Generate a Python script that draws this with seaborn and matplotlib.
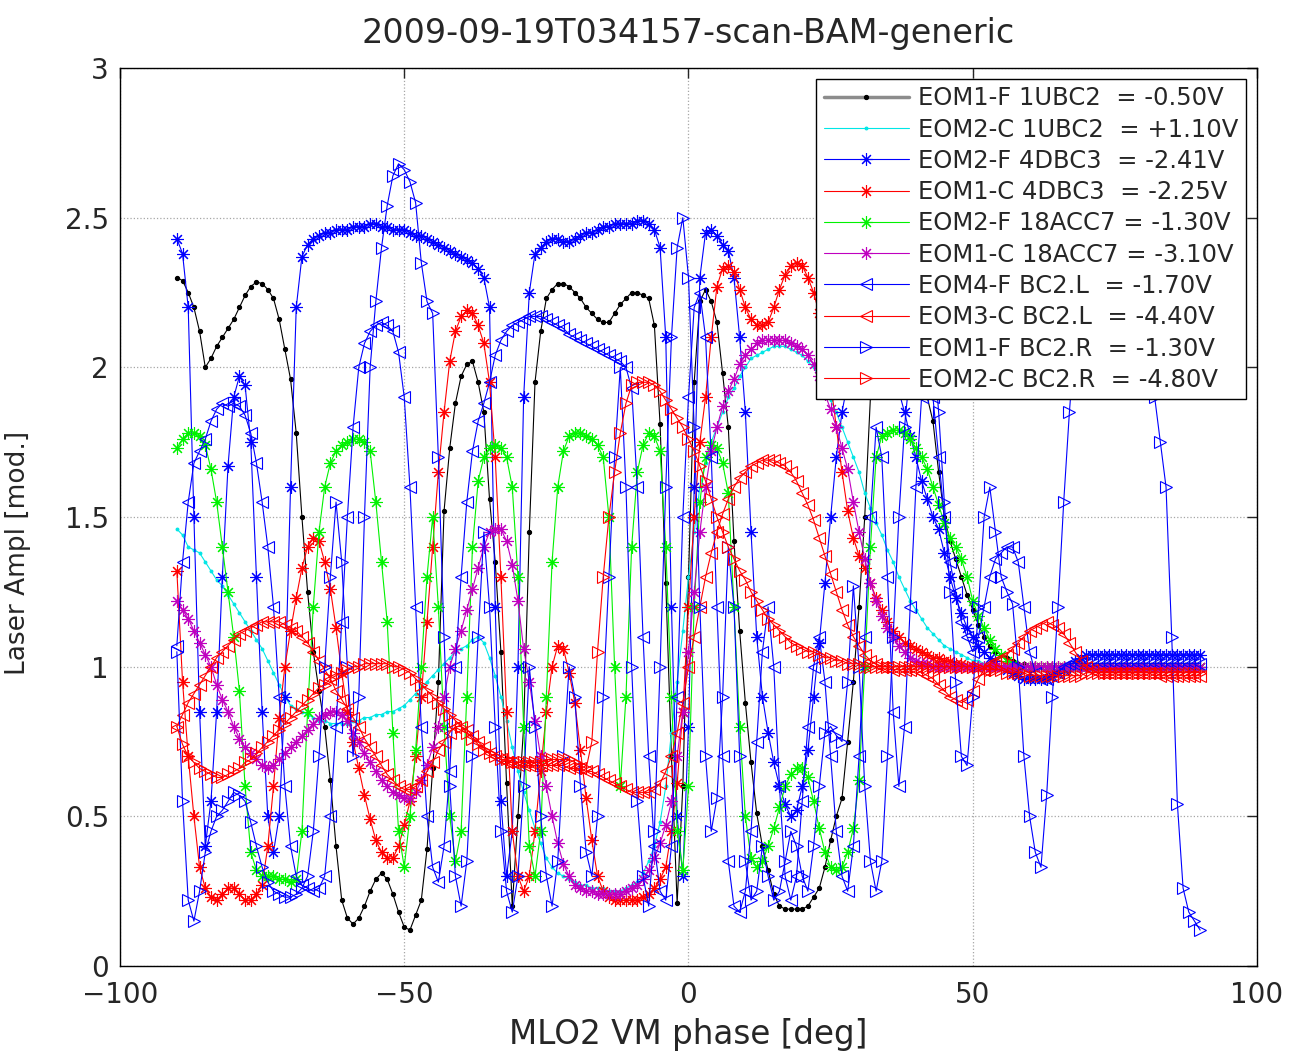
import numpy as np
import pandas as pd
import matplotlib
matplotlib.use("Agg")
import matplotlib.pyplot as plt
import seaborn as sns

# scan grid (deg), one sample per degree
phase = np.arange(-90, 91, 1)

# ---- series values (x = -90 ... 90) ----
eom1f_1ubc2 = [
    2.30, 2.29, 2.25, 2.20, 2.12, 2.00, 2.03, 2.07, 2.10, 2.13,
    2.16, 2.20, 2.24, 2.27, 2.285, 2.28, 2.26, 2.23, 2.16, 2.06,
    1.96, 1.78, 1.50, 1.25, 1.05, 0.92, 0.80, 0.62, 0.40, 0.22,
    0.16, 0.14, 0.16, 0.20, 0.25, 0.29, 0.31, 0.29, 0.24, 0.18,
    0.13, 0.12, 0.17, 0.22, 0.39, 0.66, 0.95, 1.52, 1.73, 1.88,
    1.97, 2.01, 2.02, 1.95, 1.85, 1.56, 1.35, 1.05, 0.61, 0.20,
    0.50, 0.80, 1.45, 1.95, 2.12, 2.23, 2.26, 2.28, 2.28, 2.27,
    2.25, 2.23, 2.20, 2.18, 2.16, 2.15, 2.15, 2.18, 2.21, 2.23,
    2.25, 2.25, 2.24, 2.23, 2.14, 1.81, 1.28, 0.70, 0.21, 0.60,
    1.30, 1.95, 2.22, 2.26, 2.22, 2.15, 1.98, 1.80, 1.42, 1.12,
    0.88, 0.68, 0.51, 0.40, 0.32, 0.24, 0.20, 0.19, 0.19, 0.19,
    0.19, 0.20, 0.23, 0.26, 0.33, 0.42, 0.50, 0.56, 0.75, 0.95,
    1.20, 1.50, 1.90, 2.05, 2.15, 2.20, 2.22, 2.20, 2.15, 2.08,
    2.00, 1.95, 1.90, 1.82, 1.65, 1.50, 1.42, 1.36, 1.30, 1.24,
    1.19, 1.14, 1.10, 1.07, 1.05, 1.04, 1.03, 1.02, 1.01, 1.01,
    1.00, 1.00, 1.00, 1.00, 1.00, 1.00, 1.00, 1.00, 1.00, 1.00,
    1.00, 1.00, 1.00, 1.00, 1.00, 1.00, 1.00, 1.00, 1.00, 1.00,
    1.00, 1.00, 1.00, 1.00, 1.00, 1.00, 1.00, 1.00, 1.00, 1.00,
    1.00]

eom2c_1ubc2 = [
    1.46, 1.44, 1.40, 1.39, 1.38, 1.35, 1.32, 1.29, 1.27, 1.24,
    1.21, 1.18, 1.15, 1.12, 1.09, 1.06, 1.02, 0.98, 0.94, 0.90,
    0.87, 0.86, 0.85, 0.84, 0.83, 0.82, 0.82, 0.81, 0.81, 0.81,
    0.81, 0.82, 0.82, 0.83, 0.83, 0.84, 0.84, 0.85, 0.85, 0.86,
    0.87, 0.89, 0.91, 0.93, 0.95, 0.97, 0.99, 1.01, 1.03, 1.05,
    1.06, 1.07, 1.09, 1.10, 1.08, 1.03, 0.97, 0.90, 0.82, 0.73,
    0.65, 0.58, 0.52, 0.46, 0.41, 0.36, 0.33, 0.31, 0.30, 0.29,
    0.28, 0.27, 0.27, 0.26, 0.26, 0.26, 0.25, 0.25, 0.25, 0.26,
    0.27, 0.28, 0.31, 0.35, 0.40, 0.48, 0.60, 0.78, 0.95, 1.12,
    1.30, 1.45, 1.60, 1.68, 1.75, 1.80, 1.85, 1.90, 1.93, 1.97,
    2.00, 2.03, 2.04, 2.05, 2.06, 2.07, 2.07, 2.07, 2.06, 2.05,
    2.04, 2.02, 2.00, 1.97, 1.93, 1.89, 1.85, 1.80, 1.75, 1.70,
    1.65, 1.58, 1.53, 1.48, 1.44, 1.39, 1.35, 1.30, 1.26, 1.22,
    1.19, 1.16, 1.13, 1.11, 1.09, 1.07, 1.06, 1.05, 1.04, 1.03,
    1.02, 1.02, 1.01, 1.01, 1.01, 1.00, 1.00, 1.00, 1.00, 1.00,
    1.00, 1.00, 1.00, 1.00, 1.00, 1.00, 1.00, 1.00, 1.00, 1.00,
    1.00, 1.00, 1.00, 1.00, 1.00, 1.00, 1.00, 1.00, 1.00, 1.00,
    1.00, 1.00, 1.00, 1.00, 1.00, 1.00, 1.00, 1.00, 1.00, 1.00,
    1.00]

eom2f_4dbc3 = [
    2.43, 2.38, 2.20, 1.50, 0.85, 0.40, 0.55, 0.85, 1.30, 1.67,
    1.90, 1.97, 1.94, 1.75, 1.30, 0.85, 0.50, 0.38, 0.50, 0.90,
    1.60, 2.20, 2.37, 2.41, 2.43, 2.44, 2.45, 2.45, 2.46, 2.46,
    2.46, 2.47, 2.47, 2.47, 2.48, 2.48, 2.47, 2.47, 2.46, 2.46,
    2.46, 2.45, 2.44, 2.44, 2.43, 2.42, 2.41, 2.40, 2.39, 2.38,
    2.37, 2.36, 2.35, 2.33, 2.30, 2.20, 1.20, 0.55, 0.30, 0.45,
    1.00, 1.90, 2.25, 2.38, 2.40, 2.42, 2.43, 2.43, 2.42, 2.42,
    2.43, 2.44, 2.45, 2.45, 2.46, 2.47, 2.47, 2.48, 2.48, 2.48,
    2.48, 2.49, 2.49, 2.48, 2.46, 2.40, 2.10, 1.20, 0.50, 0.30,
    0.80, 1.60, 2.30, 2.45, 2.46, 2.44, 2.41, 2.39, 2.30, 2.10,
    1.85, 1.45, 1.10, 0.90, 0.78, 0.68, 0.60, 0.54, 0.50, 0.52,
    0.60, 0.72, 0.90, 1.08, 1.28, 1.50, 1.70, 1.85, 1.95, 2.02,
    2.06, 2.08, 2.08, 2.07, 2.05, 2.02, 1.98, 1.92, 1.85, 1.77,
    1.70, 1.62, 1.56, 1.50, 1.46, 1.38, 1.30, 1.23, 1.18, 1.13,
    1.10, 1.07, 1.05, 1.03, 1.02, 1.00, 0.99, 0.98, 0.97, 0.96,
    0.96, 0.96, 0.96, 0.96, 0.97, 0.98, 0.99, 1.00, 1.02, 1.03,
    1.04, 1.04, 1.04, 1.04, 1.04, 1.04, 1.04, 1.04, 1.04, 1.04,
    1.04, 1.04, 1.04, 1.04, 1.04, 1.04, 1.04, 1.04, 1.04, 1.04,
    1.04]

eom1c_4dbc3 = [
    1.32, 0.95, 0.70, 0.50, 0.33, 0.26, 0.23, 0.22, 0.24, 0.26,
    0.26, 0.24, 0.22, 0.22, 0.24, 0.27, 0.40, 0.60, 0.83, 1.00,
    1.12, 1.23, 1.33, 1.40, 1.43, 1.42, 1.35, 1.26, 1.13, 0.98,
    0.85, 0.75, 0.66, 0.57, 0.49, 0.42, 0.38, 0.36, 0.36, 0.40,
    0.47, 0.55, 0.70, 0.90, 1.15, 1.40, 1.65, 1.85, 2.02, 2.12,
    2.17, 2.19, 2.18, 2.14, 2.08, 1.95, 1.70, 1.30, 0.85, 0.45,
    0.30, 0.25, 0.30, 0.45, 0.65, 0.85, 1.00, 1.07, 1.06, 0.98,
    0.88, 0.72, 0.56, 0.42, 0.30, 0.25, 0.23, 0.22, 0.22, 0.22,
    0.22, 0.22, 0.23, 0.24, 0.26, 0.29, 0.33, 0.45, 0.61, 0.85,
    1.20, 1.50, 1.75, 1.90, 2.10, 2.27, 2.33, 2.34, 2.32, 2.26,
    2.20, 2.16, 2.14, 2.14, 2.15, 2.20, 2.26, 2.31, 2.34, 2.35,
    2.34, 2.30, 2.25, 2.18, 2.08, 1.95, 1.80, 1.65, 1.52, 1.43,
    1.37, 1.33, 1.28, 1.23, 1.19, 1.15, 1.12, 1.10, 1.08, 1.07,
    1.06, 1.05, 1.04, 1.03, 1.03, 1.02, 1.02, 1.01, 1.01, 1.00,
    1.00, 1.00, 1.00, 1.00, 1.00, 1.00, 1.00, 1.00, 1.00, 1.00,
    1.00, 1.00, 1.00, 1.00, 1.00, 1.00, 1.00, 1.00, 1.00, 1.00,
    1.00, 1.00, 1.00, 1.00, 1.00, 1.00, 1.00, 1.00, 1.00, 1.00,
    1.00, 1.00, 1.00, 1.00, 1.00, 1.00, 1.00, 1.00, 1.00, 1.00,
    1.00]

eom2f_18acc7 = [
    1.73, 1.76, 1.78, 1.78, 1.77, 1.74, 1.66, 1.55, 1.40, 1.25,
    1.10, 0.92, 0.60, 0.38, 0.32, 0.30, 0.30, 0.30, 0.29, 0.29,
    0.28, 0.29, 0.45, 0.85, 1.20, 1.45, 1.60, 1.68, 1.72, 1.74,
    1.75, 1.76, 1.76, 1.75, 1.72, 1.55, 1.35, 1.15, 0.78, 0.45,
    0.33, 0.50, 0.72, 1.00, 1.30, 1.50, 1.20, 0.80, 0.50, 0.35,
    0.45, 0.90, 1.40, 1.62, 1.70, 1.73, 1.74, 1.73, 1.70, 1.60,
    1.30, 0.80, 0.40, 0.30, 0.45, 0.90, 1.35, 1.60, 1.72, 1.77,
    1.78, 1.78, 1.77, 1.76, 1.74, 1.70, 1.50, 1.00, 0.60, 0.90,
    1.40, 1.65, 1.74, 1.78, 1.77, 1.72, 1.40, 0.90, 0.45, 0.32,
    0.60, 1.20, 1.55, 1.70, 1.74, 1.73, 1.68, 1.58, 1.20, 0.80,
    0.50, 0.36, 0.33, 0.35, 0.40, 0.46, 0.53, 0.60, 0.64, 0.66,
    0.66, 0.63, 0.55, 0.46, 0.38, 0.33, 0.32, 0.33, 0.38, 0.46,
    0.62, 1.00, 1.40, 1.70, 1.77, 1.78, 1.79, 1.79, 1.78, 1.76,
    1.73, 1.70, 1.66, 1.60, 1.54, 1.48, 1.43, 1.40, 1.36, 1.30,
    1.22, 1.17, 1.13, 1.09, 1.06, 1.04, 1.02, 1.01, 1.00, 1.00,
    1.00, 1.00, 1.00, 1.00, 1.00, 1.00, 1.00, 1.00, 1.00, 1.00,
    1.00, 1.00, 1.00, 1.00, 1.00, 1.00, 1.00, 1.00, 1.00, 1.00,
    1.00, 1.00, 1.00, 1.00, 1.00, 1.00, 1.00, 1.00, 1.00, 1.00,
    1.00]

eom1c_18acc7 = [
    1.22, 1.19, 1.16, 1.12, 1.08, 1.04, 1.00, 0.94, 0.89, 0.85,
    0.80, 0.76, 0.73, 0.71, 0.69, 0.67, 0.66, 0.67, 0.69, 0.71,
    0.73, 0.75, 0.77, 0.79, 0.81, 0.83, 0.84, 0.85, 0.85, 0.84,
    0.82, 0.78, 0.75, 0.71, 0.68, 0.65, 0.62, 0.60, 0.58, 0.57,
    0.56, 0.56, 0.58, 0.62, 0.67, 0.73, 0.80, 0.90, 1.00, 1.06,
    1.12, 1.19, 1.26, 1.33, 1.40, 1.45, 1.46, 1.46, 1.42, 1.34,
    1.22, 1.06, 0.95, 0.82, 0.70, 0.60, 0.50, 0.41, 0.34, 0.30,
    0.27, 0.26, 0.25, 0.25, 0.24, 0.24, 0.24, 0.24, 0.24, 0.25,
    0.26, 0.27, 0.29, 0.32, 0.36, 0.41, 0.47, 0.55, 0.70, 0.85,
    1.05, 1.25, 1.45, 1.60, 1.72, 1.80, 1.87, 1.92, 1.96, 2.01,
    2.04, 2.06, 2.08, 2.09, 2.09, 2.09, 2.09, 2.09, 2.08, 2.07,
    2.06, 2.04, 2.01, 1.97, 1.91, 1.86, 1.80, 1.73, 1.66, 1.55,
    1.45, 1.36, 1.28, 1.22, 1.17, 1.13, 1.10, 1.07, 1.05, 1.03,
    1.02, 1.01, 1.01, 1.00, 1.00, 1.00, 1.00, 1.00, 1.00, 1.00,
    1.00, 1.00, 1.00, 1.00, 1.00, 1.00, 1.00, 1.00, 1.00, 1.00,
    1.00, 1.00, 1.00, 1.00, 1.00, 1.00, 1.00, 1.00, 1.00, 1.00,
    1.00, 1.00, 1.00, 1.00, 1.00, 1.00, 1.00, 1.00, 1.00, 1.00,
    1.00, 1.00, 1.00, 1.00, 1.00, 1.00, 1.00, 1.00, 1.00, 1.00,
    1.00]

eom4f_bc2l = [
    1.07, 1.35, 1.55, 1.68, 1.72, 1.76, 1.82, 1.86, 1.88, 1.87,
    1.88, 1.87, 1.84, 1.78, 1.68, 1.55, 1.40, 1.20, 0.90, 0.60,
    0.40, 0.30, 0.27, 0.26, 0.25, 0.26, 0.30, 0.50, 0.80, 1.15,
    1.50, 1.80, 2.00, 2.08, 2.12, 2.14, 2.15, 2.14, 2.12, 2.05,
    1.90, 1.60, 1.20, 0.80, 0.50, 0.33, 0.28, 0.40, 0.65, 1.00,
    1.30, 1.55, 1.72, 1.82, 1.88, 1.95, 2.04, 2.09, 2.12, 2.14,
    2.15, 2.16, 2.17, 2.17, 2.17, 2.16, 2.15, 2.14, 2.13, 2.11,
    2.10, 2.09, 2.08, 2.07, 2.06, 2.05, 2.04, 2.03, 2.02, 2.00,
    1.93, 1.60, 1.10, 0.70, 0.40, 0.25, 0.22, 0.40, 0.90, 1.50,
    1.90, 2.20, 2.25, 2.10, 1.70, 1.20, 0.70, 0.35, 0.20, 0.18,
    0.25, 0.45, 0.75, 1.05, 1.20, 1.00, 0.60, 0.30, 0.22, 0.30,
    0.55, 0.80, 1.00, 1.10, 0.95, 0.70, 0.45, 0.30, 0.25, 0.40,
    0.70, 1.10, 1.50, 1.80, 1.70, 1.30, 0.85, 0.60, 0.80, 1.20,
    1.60, 1.90, 2.00, 1.90, 1.70, 1.50, 1.35, 1.25, 1.15, 1.10,
    1.05, 1.10, 1.20, 1.30, 1.36, 1.38, 1.40, 1.40, 1.35, 1.20,
    1.05, 0.98, 0.96, 0.96, 0.97, 0.98, 1.00, 1.01, 1.01, 1.01,
    1.01, 1.01, 1.01, 1.01, 1.01, 1.01, 1.01, 1.01, 1.01, 1.01,
    1.01, 1.01, 1.01, 1.01, 1.01, 1.01, 1.01, 1.01, 1.01, 1.01,
    1.01]

eom3c_bc2l = [
    0.80, 0.84, 0.88, 0.91, 0.94, 0.97, 1.00, 1.03, 1.05, 1.07,
    1.09, 1.11, 1.12, 1.13, 1.14, 1.15, 1.15, 1.15, 1.15, 1.14,
    1.13, 1.12, 1.10, 1.08, 1.05, 1.02, 0.99, 0.96, 0.92, 0.89,
    0.86, 0.83, 0.80, 0.76, 0.73, 0.70, 0.67, 0.64, 0.62, 0.60,
    0.59, 0.59, 0.60, 0.62, 0.65, 0.68, 0.72, 0.75, 0.78, 0.80,
    0.80, 0.79, 0.77, 0.75, 0.73, 0.71, 0.70, 0.69, 0.68, 0.68,
    0.67, 0.67, 0.67, 0.67, 0.67, 0.67, 0.67, 0.67, 0.67, 0.66,
    0.66, 0.66, 0.65, 0.65, 0.64, 0.63, 0.62, 0.61, 0.60, 0.59,
    0.58, 0.58, 0.58, 0.58, 0.59, 0.61, 0.65, 0.70, 0.78, 0.88,
    1.00, 1.10, 1.20, 1.30, 1.38, 1.45, 1.51, 1.56, 1.60, 1.63,
    1.65, 1.67, 1.68, 1.69, 1.69, 1.69, 1.68, 1.67, 1.65, 1.62,
    1.58, 1.54, 1.49, 1.43, 1.37, 1.31, 1.25, 1.19, 1.14, 1.10,
    1.07, 1.04, 1.02, 1.01, 1.00, 1.00, 0.99, 0.99, 0.99, 0.99,
    0.99, 0.98, 0.97, 0.96, 0.94, 0.92, 0.90, 0.89, 0.88, 0.89,
    0.92, 0.96, 0.99, 1.01, 1.02, 1.03, 1.04, 1.06, 1.08, 1.10,
    1.12, 1.13, 1.14, 1.15, 1.14, 1.13, 1.11, 1.08, 1.05, 1.02,
    1.00, 0.99, 0.98, 0.98, 0.98, 0.98, 0.98, 0.98, 0.98, 0.98,
    0.98, 0.98, 0.98, 0.97, 0.97, 0.97, 0.97, 0.97, 0.97, 0.97,
    0.97]

eom1f_bc2r = [
    1.05, 0.55, 0.22, 0.15, 0.25, 0.38, 0.45, 0.50, 0.52, 0.55,
    0.58, 0.57, 0.55, 0.48, 0.40, 0.33, 0.28, 0.25, 0.24, 0.23,
    0.23, 0.24, 0.26, 0.30, 0.45, 0.70, 1.00, 1.30, 1.55, 1.35,
    1.00, 0.70, 0.90, 1.50, 2.00, 2.22, 2.40, 2.54, 2.64, 2.68,
    2.66, 2.62, 2.55, 2.35, 2.22, 2.18, 1.70, 1.10, 0.60, 0.30,
    0.20, 0.35, 0.70, 1.10, 1.45, 1.20, 0.80, 0.45, 0.25, 0.18,
    0.30, 0.60, 1.00, 0.80, 0.50, 0.30, 0.20, 0.35, 0.70, 1.00,
    0.90, 0.60, 0.38, 0.30, 0.50, 0.90, 1.30, 1.70, 2.00, 1.60,
    1.00, 0.55, 0.30, 0.20, 0.45, 1.00, 1.60, 2.10, 2.40, 2.50,
    2.30, 1.80, 1.20, 0.70, 0.45, 0.56, 0.90, 1.40, 1.20, 0.70,
    0.35, 0.22, 0.25, 0.40, 0.30, 0.22, 0.25, 0.35, 0.45, 0.40,
    0.30, 0.25, 0.40, 0.60, 0.78, 0.80, 0.77, 0.75, 0.95, 1.27,
    1.00, 0.60, 0.35, 0.25, 0.35, 0.70, 1.10, 1.50, 1.80, 2.00,
    2.10, 2.20, 2.20, 2.10, 1.85, 1.55, 1.25, 0.95, 0.70, 0.67,
    0.90, 1.20, 1.50, 1.60, 1.45, 1.30, 1.25, 1.21, 1.00, 0.70,
    0.50, 0.38, 0.33, 0.57, 0.90, 1.20, 1.55, 1.85, 2.10, 2.25,
    2.30, 2.30, 2.30, 2.30, 2.30, 2.30, 2.30, 2.30, 2.30, 2.30,
    2.25, 2.10, 1.90, 1.75, 1.60, 1.10, 0.54, 0.26, 0.18, 0.15,
    0.12]

eom2c_bc2r = [
    0.80, 0.74, 0.70, 0.68, 0.66, 0.65, 0.64, 0.63, 0.63, 0.64,
    0.65, 0.66, 0.68, 0.69, 0.71, 0.73, 0.75, 0.77, 0.79, 0.81,
    0.83, 0.85, 0.87, 0.89, 0.91, 0.93, 0.94, 0.96, 0.97, 0.98,
    0.99, 1.00, 1.00, 1.01, 1.01, 1.01, 1.01, 1.01, 1.00, 1.00,
    0.99, 0.98, 0.96, 0.94, 0.92, 0.90, 0.88, 0.86, 0.84, 0.82,
    0.80, 0.78, 0.76, 0.74, 0.72, 0.71, 0.70, 0.69, 0.69, 0.68,
    0.68, 0.68, 0.68, 0.68, 0.68, 0.69, 0.69, 0.69, 0.69, 0.69,
    0.68, 0.67, 0.66, 0.75, 1.05, 1.30, 1.50, 1.65, 1.78, 1.88,
    1.94, 1.95, 1.95, 1.95, 1.94, 1.92, 1.89, 1.86, 1.83, 1.80,
    1.76, 1.72, 1.67, 1.62, 1.56, 1.50, 1.45, 1.40, 1.36, 1.32,
    1.29, 1.25, 1.22, 1.19, 1.16, 1.14, 1.12, 1.10, 1.08, 1.07,
    1.06, 1.05, 1.05, 1.04, 1.03, 1.03, 1.02, 1.02, 1.01, 1.01,
    1.01, 1.00, 1.00, 1.00, 1.00, 1.00, 1.00, 1.00, 1.00, 1.00,
    1.00, 1.00, 1.00, 1.00, 1.00, 1.00, 1.00, 1.00, 1.00, 1.00,
    1.00, 1.00, 0.99, 0.99, 0.99, 0.99, 0.98, 0.98, 0.98, 0.98,
    0.97, 0.97, 0.97, 0.97, 0.97, 0.97, 0.97, 0.97, 0.97, 0.97,
    0.98, 0.98, 0.98, 0.98, 0.98, 0.98, 0.98, 0.98, 0.98, 0.98,
    0.98, 0.98, 0.98, 0.98, 0.98, 0.98, 0.98, 0.98, 0.98, 0.98,
    0.98]

labels = [
    "EOM1-F 1UBC2  = -0.50V",
    "EOM2-C 1UBC2  = +1.10V",
    "EOM2-F 4DBC3  = -2.41V",
    "EOM1-C 4DBC3  = -2.25V",
    "EOM2-F 18ACC7 = -1.30V",
    "EOM1-C 18ACC7 = -3.10V",
    "EOM4-F BC2.L  = -1.70V",
    "EOM3-C BC2.L  = -4.40V",
    "EOM1-F BC2.R  = -1.30V",
    "EOM2-C BC2.R  = -4.80V",
]
values = [eom1f_1ubc2, eom2c_1ubc2, eom2f_4dbc3, eom1c_4dbc3, eom2f_18acc7,
          eom1c_18acc7, eom4f_bc2l, eom3c_bc2l, eom1f_bc2r, eom2c_bc2r]
for v in values:
    assert len(v) == len(phase), len(v)

ASTER = (8, 2, 0)
styles = [
    dict(color="k", marker=".", ms=6, filled=True),
    dict(color=(0.0, 0.9, 0.9), marker=".", ms=4, filled=True),
    dict(color="b", marker=ASTER, ms=9, filled=False),
    dict(color="r", marker=ASTER, ms=9, filled=False),
    dict(color=(0.0, 0.95, 0.0), marker=ASTER, ms=9, filled=False),
    dict(color="m", marker=ASTER, ms=9, filled=False),
    dict(color="b", marker="<", ms=9, filled=False),
    dict(color="r", marker="<", ms=9, filled=False),
    dict(color="b", marker=">", ms=9, filled=False),
    dict(color="r", marker=">", ms=9, filled=False),
]

sns.set_style("white")
plt.rcParams["font.family"] = ["DejaVu Sans"]

fig = plt.figure(figsize=(12.9, 10.51), dpi=100)
ax = fig.add_axes([120 / 1290, 85 / 1051, 1137 / 1290, 898 / 1051])

for lab, yv, st in zip(labels, values, styles):
    df = pd.DataFrame({"phase": phase, "ampl": yv})
    col = st["color"]
    sns.lineplot(data=df, x="phase", y="ampl", ax=ax, color=col,
                 marker=st["marker"], markersize=st["ms"],
                 markerfacecolor=(col if st["filled"] else "none"),
                 markeredgecolor=col, markeredgewidth=0.8,
                 linewidth=0.8, label=lab, estimator=None, sort=False)

ax.set_xlim(-100, 100)
ax.set_ylim(0, 3)
ax.set_xticks([-100, -50, 0, 50, 100])
ax.set_yticks([0, 0.5, 1, 1.5, 2, 2.5, 3])
ax.set_yticklabels(["0", "0.5", "1", "1.5", "2", "2.5", "3"])
ax.tick_params(direction="in", top=True, right=True, length=7, width=1,
               labelsize=20)
ax.tick_params(axis="x", pad=11)
ax.tick_params(axis="y", pad=8)
ax.grid(True, linestyle=":", color="0.65", linewidth=0.9)
for s in ax.spines.values():
    s.set_color("k")
    s.set_linewidth(1.0)

ax.set_xlabel("MLO2 VM phase [deg]", fontsize=23.5, labelpad=6)
ax.set_ylabel("Laser Ampl [mod.]", fontsize=19)
ax.yaxis.set_label_coords(-0.078, 0.46)
ax.set_title("2009-09-19T034157-scan-BAM-generic", fontsize=24, pad=18)

leg = ax.legend(loc="upper right", fontsize=17.5, frameon=True, fancybox=False,
                framealpha=1, edgecolor="k", handlelength=3.5,
                handletextpad=0.4, labelspacing=0.3, borderpad=0.3,
                borderaxespad=0.45, numpoints=1)
leg.get_frame().set_linewidth(1.0)
# the first legend entry shows a grey, thicker line with a black dot
h0 = leg.get_lines()[0]
h0.set_color("0.55")
h0.set_linewidth(2.5)
h0.set_markerfacecolor("k")
h0.set_markeredgecolor("k")

fig.savefig("out.png", dpi=100)
